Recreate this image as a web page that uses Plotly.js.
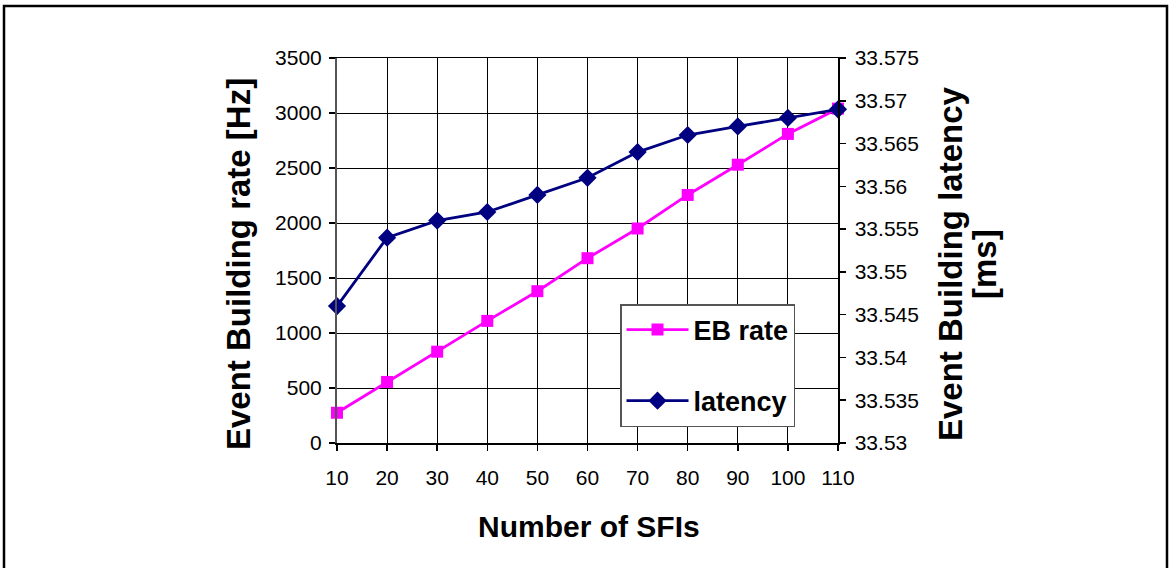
<!DOCTYPE html>
<html>
<head>
<meta charset="utf-8">
<script src="https://cdn.plot.ly/plotly-3.0.1.min.js"></script>
<style>
html,body{margin:0;padding:0;background:#fff;}
#chart{width:1176px;height:568px;}
</style>
</head>
<body>
<div id="chart"></div>
<script>
// Data
const sfis = [10, 20, 30, 40, 50, 60, 70, 80, 90, 100, 110];
const ebRate = [275, 555, 830, 1110, 1380, 1680, 1950, 2255, 2530, 2810, 3040];
const latency = [33.546, 33.554, 33.556, 33.557, 33.559, 33.561, 33.564, 33.566, 33.567, 33.568, 33.569];

const xTicks = [10, 20, 30, 40, 50, 60, 70, 80, 90, 100, 110];
const rateTicks = [0, 500, 1000, 1500, 2000, 2500, 3000, 3500];
const latencyTicks = [33.53, 33.535, 33.54, 33.545, 33.55, 33.555, 33.56, 33.565, 33.57, 33.575];
const latencyTickText = ["33.53", "33.535", "33.54", "33.545", "33.55", "33.555", "33.56", "33.565", "33.57", "33.575"];

const FONT = "Liberation Sans, Arial, sans-serif";

const traces = [
  {
    x: sfis, y: ebRate, name: "EB rate", type: "scatter", mode: "lines+markers",
    line: {color: "#FF00FF", width: 2.8},
    marker: {symbol: "square", size: 12, color: "#FF00FF"},
    cliponaxis: false, legendgroup: "a", yaxis: "y"
  },
  {
    x: sfis, y: latency, name: "latency", type: "scatter", mode: "lines+markers",
    line: {color: "#000080", width: 2.8},
    marker: {symbol: "diamond", size: 14, color: "#000080"},
    cliponaxis: false, legendgroup: "b", yaxis: "y2"
  }
];

const L = 337, R = 338, T = 58, B = 125, W = 1176, H = 568;
const pw = W - L - R, ph = H - T - B;
const px = v => (v - L) / pw;
const py = v => (H - B - v) / ph;

const layout = {
  width: W, height: H, autosize: false,
  margin: {l: L, r: R, t: T, b: B, pad: 0},
  paper_bgcolor: "#fff", plot_bgcolor: "#fff",
  font: {family: FONT, size: 21, color: "#000"},
  showlegend: true,
  legend: {
    x: px(620), y: py(304), xanchor: "left", yanchor: "top",
    bgcolor: "#fff", bordercolor: "#555", borderwidth: 1.5,
    font: {family: FONT, size: 27, color: "#000", weight: "bold"},
    traceorder: "grouped", tracegroupgap: 33, itemwidth: 62
  },
  xaxis: {
    range: [10, 110], tickvals: xTicks, ticktext: xTicks.map(String),
    showgrid: true, gridcolor: "#000", gridwidth: 1,
    showline: true, linecolor: "#000", linewidth: 1.5, mirror: true,
    ticks: "outside", ticklen: 6, tickcolor: "#000", tickwidth: 1.5,
    ticklabelstandoff: 9,
    tickfont: {family: FONT, size: 21, color: "#000"},
    zeroline: false, fixedrange: true
  },
  yaxis: {
    range: [0, 3500], tickvals: rateTicks, ticktext: rateTicks.map(String),
    showgrid: true, gridcolor: "#000", gridwidth: 1,
    showline: true, linecolor: "#555", linewidth: 2,
    ticks: "outside", ticklen: 6, tickcolor: "#000", tickwidth: 1.5,
    ticklabelstandoff: 3,
    tickfont: {family: FONT, size: 21, color: "#000"},
    zeroline: false, fixedrange: true
  },
  yaxis2: {
    range: [33.53, 33.575], overlaying: "y", side: "right",
    tickvals: latencyTicks, ticktext: latencyTickText,
    showgrid: false, showline: true, linecolor: "#000", linewidth: 1.5,
    ticks: "outside", ticklen: 6, tickcolor: "#000", tickwidth: 1.5,
    ticklabelstandoff: 5,
    tickfont: {family: FONT, size: 21, color: "#000"},
    zeroline: false, fixedrange: true
  },
  annotations: [
    {
      text: "Event Building rate [Hz]", xref: "paper", yref: "paper",
      x: px(238), y: py(264), xanchor: "center", yanchor: "middle",
      textangle: -90, showarrow: false,
      font: {family: FONT, size: 33, color: "#000", weight: "bold"}
    },
    {
      text: "Event Building latency", xref: "paper", yref: "paper",
      x: px(950), y: py(264), xanchor: "center", yanchor: "middle",
      textangle: -90, showarrow: false,
      font: {family: FONT, size: 33, color: "#000", weight: "bold"}
    },
    {
      text: "[ms]", xref: "paper", yref: "paper",
      x: px(984), y: py(264), xanchor: "center", yanchor: "middle",
      textangle: -90, showarrow: false,
      font: {family: FONT, size: 33, color: "#000", weight: "bold"}
    },
    {
      text: "Number of SFIs", xref: "paper", yref: "paper",
      x: px(589), y: py(526), xanchor: "center", yanchor: "middle",
      showarrow: false,
      font: {family: FONT, size: 30, color: "#000", weight: "bold"}
    }
  ],
  shapes: [
    {
      type: "rect", xref: "paper", yref: "paper", layer: "above",
      x0: px(4), x1: px(1167), y0: py(590), y1: py(6),
      line: {color: "#000", width: 2.5}, fillcolor: "rgba(0,0,0,0)"
    }
  ]
};

Plotly.newPlot("chart", traces, layout, {displayModeBar: false, staticPlot: true});
</script>
</body>
</html>
